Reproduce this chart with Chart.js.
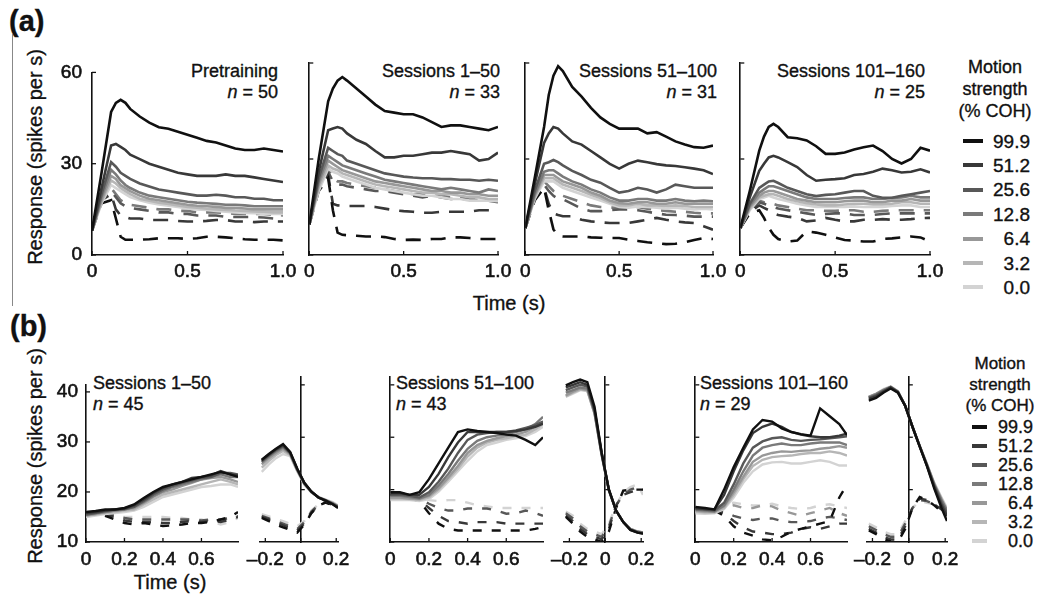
<!DOCTYPE html>
<html>
<head>
<meta charset="utf-8">
<script src="https://cdn.jsdelivr.net/npm/chart.js@4.4.0/dist/chart.umd.min.js"></script>
<style>
  body { margin: 0; width: 1038px; height: 601px; position: relative; overflow: hidden; background: #fff;
         font-family: 'Liberation Sans', Arial, sans-serif; color: #111; }
  canvas { position: absolute; }
  .t { position: absolute; white-space: nowrap; line-height: 1; -webkit-text-stroke: 0.35px #111; }
  .r { text-align: right; }
  .rot { transform: translate(-50%, -50%) rotate(-90deg); }
  .ctr { transform: translate(-50%, -50%); }
</style>
</head>
<body>

<div class="t" style="left:9px;top:7px;font-size:29px;font-weight:bold;">(a)</div>
<div class="t" style="left:10px;top:312px;font-size:29px;font-weight:bold;">(b)</div>
<div style="position:absolute;left:12px;top:34px;width:1px;height:272px;background:#888;"></div>

<div class="t rot" style="left:35px;top:157px;font-size:20px;">Response (spikes per s)</div>
<div class="t ctr" style="left:509px;top:303px;font-size:20px;">Time (s)</div>
<div class="t rot" style="left:35px;top:456px;font-size:20px;">Response (spikes per s)</div>
<div class="t ctr" style="left:170px;top:582px;font-size:20px;">Time (s)</div>

<!-- panel a annotations -->
<div class="t r" style="right:760px;top:61px;font-size:18px;line-height:21px;">Pretraining<br><i>n</i> = 50</div>
<div class="t r" style="right:538px;top:61px;font-size:18px;line-height:21px;">Sessions 1–50<br><i>n</i> = 33</div>
<div class="t r" style="right:321px;top:61px;font-size:18px;line-height:21px;">Sessions 51–100<br><i>n</i> = 31</div>
<div class="t r" style="right:113px;top:61px;font-size:18px;line-height:21px;">Sessions 101–160<br><i>n</i> = 25</div>

<!-- panel b annotations -->
<div class="t" style="left:93px;top:373px;font-size:18px;line-height:21px;">Sessions 1–50<br><i>n</i> = 45</div>
<div class="t" style="left:396px;top:373px;font-size:18px;line-height:21px;">Sessions 51–100<br><i>n</i> = 43</div>
<div class="t" style="left:700px;top:373px;font-size:18px;line-height:21px;">Sessions 101–160<br><i>n</i> = 29</div>

<div id="legA"></div>
<div id="legB"></div>

<script>
// motion strength levels (% COH) and the grey used for each
const COH = ['99.9', '51.2', '25.6', '12.8', '6.4', '3.2', '0.0'];
const COLORS = ['#101010', '#383838', '#585858', '#7a7a7a', '#989898', '#b6b6b6', '#d3d3d3'];

// time bases (s)
const tA = [0, 0.05, 0.1, 0.125, 0.15, 0.175, 0.2, 0.25, 0.3, 0.35, 0.4, 0.45, 0.5, 0.55, 0.6, 0.65, 0.7, 0.75, 0.8, 0.85, 0.9, 0.95, 1.0];
const tB = [0, 0.05, 0.1, 0.15, 0.2, 0.25, 0.3, 0.35, 0.4, 0.45, 0.5, 0.55, 0.6, 0.65, 0.7, 0.75, 0.79];
const tS = [-0.22, -0.18, -0.14, -0.1, -0.06, -0.02, 0.02, 0.06, 0.1, 0.14, 0.18, 0.21];

// tick values
const ticksAx = [0, 0.5, 1.0];
const ticksAy = [0, 30, 60];
const ticksBx = [0, 0.2, 0.4, 0.6];
const ticksSx = [-0.2, 0, 0.2];
const ticksBy = [10, 20, 30, 40];

// (a) Pretraining: solid = preferred dir, one row per COH level
const preSolid = [
  [8, 27, 47, 50, 51, 50, 48, 45.5, 43.5, 42, 41.5, 40.5, 39.5, 38.5, 37.5, 37, 36, 35, 34.5, 34.5, 35, 34.5, 34],
  [8, 22, 36, 36.5, 35.5, 34.5, 33, 31.5, 30, 29, 28, 27, 26.5, 26, 26, 26, 26.5, 26, 26, 25.5, 25, 24.5, 24],
  [8, 20, 30.5, 29, 27, 26, 25, 23.5, 22.5, 21.5, 21, 20.5, 20, 19.5, 19.5, 19.8, 19.5, 19, 19, 18.5, 18.5, 18, 18],
  [8, 19, 28, 26.5, 24.5, 23, 22, 20.5, 19.5, 19, 18.5, 18, 17.5, 17.2, 17, 16.8, 16.5, 16.5, 16.3, 16, 16, 16, 16],
  [8, 18, 26, 25, 23, 22, 21, 19.5, 18.5, 18, 17.5, 17, 16.5, 16.2, 16, 15.8, 15.5, 15.5, 15.3, 15, 15, 15, 15],
  [8, 17.5, 24.5, 23.5, 22, 21, 20, 18.5, 17.8, 17.2, 16.8, 16.3, 15.8, 15.5, 15.2, 15, 14.8, 14.6, 14.5, 14.3, 14.2, 14, 14],
  [8, 17, 23, 22, 21, 20, 19, 18, 17.2, 16.6, 16.2, 15.8, 15.3, 15, 14.8, 14.5, 14.2, 14, 13.8, 13.7, 13.5, 13.5, 13.5]
];
// dashed = null dir, for COH 99.9, 51.2, 25.6, 12.8
const preDashed = [
  [8, 17, 18, 12, 6, 5, 5, 5, 5.2, 5.5, 5.5, 5.5, 5.3, 5.5, 6, 6, 5.8, 5.5, 5.2, 5, 5, 5, 4.8],
  [8, 18, 20, 15, 13, 12.5, 12, 12, 11.5, 11.5, 11.5, 11.2, 11, 11, 11.2, 11.5, 11.5, 11, 11, 10.8, 11, 11, 11],
  [8, 18, 21, 19, 17, 16, 15.5, 15, 14.5, 14, 14, 13.5, 13.5, 13, 13, 13, 12.5, 12.5, 12.5, 12.5, 12.3, 12, 12],
  [8, 18, 22, 20, 18, 17, 16.5, 16, 15.5, 15, 15, 14.5, 14.5, 14, 14, 14, 13.8, 13.5, 13.5, 13.5, 13.5, 13.2, 13]
];

// (a) Sessions 1-50
const s1Solid = [
  [9.5, 30, 48, 52, 54.5, 55.6, 54.5, 52, 49.5, 47, 45, 44.5, 44, 44, 43, 41.5, 40, 40.5, 40.5, 40, 39.5, 39, 40],
  [9.5, 26, 39, 39.5, 40, 39.5, 38, 36, 34.7, 32.5, 30.5, 30.5, 31, 31, 31.5, 32, 32, 32.5, 32, 31.5, 29.5, 30, 32],
  [9.5, 24, 33.5, 32.5, 31.5, 31, 29.5, 28.5, 27.5, 26.5, 25.5, 25, 24.5, 24.2, 24, 24, 23.7, 23.7, 23.5, 23.5, 23.2, 23.5, 23.2],
  [9.5, 23, 31, 30, 29, 28, 27.5, 26.5, 25.5, 24.5, 23.5, 23, 22.5, 22, 21.5, 21, 20.5, 21, 20.5, 20, 19.5, 20.5, 20],
  [9.5, 22, 29.5, 28.5, 27.5, 26.5, 26, 25, 24, 23, 22.5, 22, 21.5, 21, 20.5, 20, 20, 19.5, 19.5, 19, 19, 18.5, 18.5],
  [9.5, 21, 28, 27, 26.5, 25.5, 25, 24, 23, 22, 21.5, 21, 20.5, 20, 19.5, 19.5, 19, 19, 18.5, 18, 18, 17.5, 17.5],
  [9.5, 20, 27, 26, 25.5, 24.5, 24, 23, 22, 21, 20.5, 20, 19.5, 19, 18.5, 18.5, 18, 17.5, 17.5, 17, 17, 17, 16.8]
];
const s1Dashed = [
  [9.5, 20, 24, 14, 7, 6.3, 6.2, 6, 5.8, 5.8, 5.6, 5, 4.7, 4.8, 4.7, 5, 5, 5.5, 5.5, 5.3, 5, 5, 5],
  [9.5, 21, 25, 16, 15.5, 15.4, 15.3, 15.3, 15.3, 15, 14.5, 14, 13.7, 13.5, 13.2, 13.2, 13.5, 13.5, 13.5, 13.5, 14, 14, 14],
  [9.5, 22, 26, 23, 22, 22, 21.5, 21, 20.5, 20, 20, 19.5, 19, 18.5, 18, 18.5, 18, 17.5, 17.5, 17.5, 17, 17, 16.5],
  [9.5, 22, 27, 24, 23, 23, 22.5, 22, 21.5, 21, 20.5, 20, 19.5, 19, 19, 18.5, 18.5, 18, 18, 17.5, 17.5, 17, 17]
];

// (a) Sessions 51-100
const s51Solid = [
  [8.4, 24, 40, 50, 56, 59, 57.5, 52.5, 49.5, 46, 43, 41, 39.5, 39.5, 39.5, 38, 38.4, 37, 35.5, 34.5, 33.7, 33.5, 34.2],
  [8.4, 22, 35, 38, 40, 39.5, 38, 35.5, 34.5, 32.5, 30.5, 28.5, 27, 28.5, 29.5, 29, 28.4, 28, 27.8, 27.4, 27, 26.5, 25.3],
  [8.4, 20, 28.5, 29, 29.7, 29, 28, 26.3, 25, 23.5, 22.6, 21, 19.5, 20, 21, 20.5, 19.5, 20.5, 22, 21.5, 21, 21, 21],
  [8.4, 19, 26, 26.5, 26.5, 25.5, 24.5, 23, 22, 20.5, 19.5, 18, 17, 17, 17.5, 17.5, 17, 17, 17.5, 17, 16.8, 17, 16.8],
  [8.4, 18.5, 25, 25, 25, 24, 23, 22, 21, 19.5, 18.5, 17, 16.2, 16, 16.5, 16.5, 16, 16, 16.5, 16, 16, 16, 16],
  [8.4, 18, 24, 24, 24, 23, 22, 21, 20, 18.8, 17.8, 16.5, 15.5, 15.5, 16, 15.5, 15.5, 15.3, 15.5, 15.3, 15, 15, 15],
  [8.4, 17.5, 23, 23, 23, 22, 21, 20, 19, 18, 17, 16, 15, 14.8, 15.2, 15, 14.8, 14.5, 14.8, 14.5, 14.2, 14.5, 14.2]
];
const s51Dashed = [
  [8.4, 17, 21, 14, 8, 6, 5.8, 5.8, 5.8, 5.5, 5.4, 5.3, 5.3, 4.8, 4.4, 4, 3.7, 3.4, 3.5, 4, 4.7, 5.3, 5],
  [8.4, 17.5, 21, 16, 13, 12.5, 12.1, 12.1, 11, 10.5, 10.2, 10, 10, 10, 10.5, 11, 11.6, 11, 10.5, 10.2, 10, 9, 7.9],
  [8.4, 18, 22, 20, 18.5, 17.5, 17.4, 16, 14.5, 13.7, 13.7, 14, 14.2, 14.2, 14, 13.5, 13, 12.6, 12.5, 12.3, 12, 12, 12],
  [8.4, 18, 23, 21.5, 20, 19, 18.5, 17.5, 16.5, 15.5, 15, 14.8, 14.8, 15, 15, 14.5, 14, 13.8, 13.5, 13.5, 13.2, 13, 13]
];

// (a) Sessions 101-160
const s101Solid = [
  [8.4, 20, 32.6, 37, 40, 41, 40, 36.8, 36.5, 35.8, 34, 31.6, 31.6, 32, 33, 33.7, 34.2, 32.5, 30, 28.6, 30, 33.5, 32.6],
  [8.4, 18, 26.3, 28.5, 30.5, 31, 30.5, 29, 27.5, 25, 23.2, 23.5, 23.7, 24, 25, 25.3, 26, 27, 26.5, 25.8, 26, 26.8, 25.8],
  [8.4, 16, 21, 22, 23, 23.2, 22.5, 21, 20, 19, 18.4, 18.8, 19, 19.5, 20, 20, 18.5, 17.9, 17.9, 18.5, 19, 19.5, 20],
  [8.4, 15.5, 19.5, 20.5, 21.5, 21.5, 21, 20, 19, 18, 17.5, 17.5, 17.5, 17.8, 18, 18, 17.5, 17.5, 17.8, 18, 18.5, 18, 18],
  [8.4, 15, 18.5, 19.5, 20, 20, 19.5, 18.5, 17.5, 17, 16.5, 16.5, 16.5, 16.8, 17, 17, 16.5, 16.5, 17, 17, 17.5, 17, 17],
  [8.4, 14.5, 18, 18.5, 19, 19, 18.5, 17.5, 16.8, 16.2, 15.8, 15.5, 15.5, 15.8, 16, 16, 15.8, 15.8, 16, 16.5, 16.5, 16, 16],
  [8.4, 14, 17.5, 18, 18.5, 18, 17.5, 16.8, 16, 15.5, 15, 15, 15, 15, 15.2, 15, 15, 15, 15.3, 15.5, 15.5, 15, 15]
];
const s101Dashed = [
  [8.4, 13, 14, 11.6, 8.5, 6.3, 5, 4.2, 4.5, 7.4, 7, 6.3, 5.5, 4.7, 4.5, 4.2, 4.2, 5, 5.2, 5.5, 5.8, 5.5, 4.2],
  [8.4, 13.5, 15.5, 14.7, 14, 13, 12.5, 12, 11.6, 10.5, 10.8, 11.6, 11, 10.5, 10.5, 11, 11, 11.2, 11, 11, 11.2, 11.5, 11.6],
  [8.4, 14, 16.5, 16, 15.5, 15, 14.5, 14, 13.5, 13, 12.5, 12.8, 13, 13, 12.5, 12.5, 12.5, 12.8, 13, 13, 13, 13, 13],
  [8.4, 14.5, 17, 16.5, 16.5, 16, 15.5, 15, 14.5, 14, 14, 13.8, 13.8, 14, 14, 13.5, 13.5, 13.8, 14, 14, 14, 14, 14]
];
const dashedCohA = [0, 1, 2, 3];

// (b) Sessions 1-50, aligned to motion onset / to saccade
const b1Stim = [
  [16, 16.2, 16.5, 16.5, 16.8, 17.5, 18.8, 20, 21, 21.5, 22, 22.5, 23, 23.5, 24, 23.5, 23],
  [15.8, 16, 16.3, 16.5, 16.7, 17.3, 18.5, 19.8, 20.8, 21.5, 22, 22.8, 23, 23.3, 24.2, 23.5, 23.3],
  [15.5, 15.8, 16.2, 16.5, 16.6, 17, 18.2, 19.5, 20.5, 21.2, 21.8, 22.3, 22.8, 23, 23.8, 23.8, 23.5],
  [15.5, 15.8, 16, 16.3, 16.5, 17, 18, 19.2, 20.2, 21, 21.5, 22, 22.5, 23, 23.5, 23, 23],
  [15.3, 15.6, 16, 16.3, 16.5, 16.8, 17.8, 19, 20, 20.5, 21.2, 21.8, 22.5, 22.8, 23, 22.5, 22],
  [15.3, 15.5, 15.8, 16, 16.3, 16.5, 17.5, 18.5, 19.5, 20, 20.5, 21, 21.5, 22, 22.5, 22, 21.5],
  [15, 15.3, 15.6, 15.8, 16, 16.3, 17, 18, 19, 19.5, 20, 20.5, 21, 21.2, 21.5, 21.5, 21]
];
const b1StimNull = [
  [15.5, 15.5, 15.2, 14.5, 13.8, 13.5, 13.8, 13.5, 13.2, 13.3, 13.5, 13.8, 13.8, 14, 14.5, 15, 16],
  [15.5, 15.5, 15.5, 15, 14.3, 14, 14, 14, 13.8, 13.8, 14, 14.2, 14, 14.2, 14, 14.5, 15],
  [15.8, 15.8, 15.8, 15.3, 14.8, 14.5, 14.5, 14.5, 14.5, 14.5, 14.5, 14.5, 14.3, 14.5, 14.5, 14.8, 15.2],
  [16, 16, 16, 15.5, 15, 15, 15, 15, 15, 14.8, 14.8, 14.5, 14.5, 14, 13.5, 14, 14.8]
];
const b1Sacc = [
  [25.7, 26.8, 27.8, 28.7, 27.2, 24, 21.3, 19.6, 18.5, 17.9, 17.2, 16.5],
  [25.6, 26.7, 27.7, 28.5, 27.1, 24, 21.3, 19.6, 18.5, 17.9, 17.2, 16.6],
  [25.4, 26.5, 27.5, 28.3, 27, 23.9, 21.2, 19.6, 18.5, 17.9, 17.3, 16.7],
  [25.2, 26.3, 27.3, 28.1, 26.9, 23.8, 21.2, 19.6, 18.5, 18, 17.4, 16.8],
  [24.8, 26, 27, 27.8, 26.8, 23.7, 21.1, 19.5, 18.5, 18, 17.4, 16.8],
  [24.2, 25.5, 26.6, 27.4, 26.6, 23.6, 21, 19.5, 18.5, 18, 17.5, 16.9],
  [23.4, 24.8, 26, 26.8, 26.4, 23.5, 21, 19.5, 18.6, 18.1, 17.6, 17]
];
const b1SaccNull = [
  [14.6, 14, 13.3, 12.8, 12.3, 11.8, 13.3, 15.5, 17, 17.5, 17, 16.5],
  [14.8, 14.3, 13.7, 13.2, 12.6, 12.2, 13.5, 15.6, 17, 17.6, 17.1, 16.6],
  [15, 14.5, 14, 13.5, 13, 12.5, 13.8, 15.8, 17.1, 17.7, 17.2, 16.7],
  [15.3, 14.9, 14.4, 14, 13.5, 13, 14, 16, 17.2, 17.8, 17.3, 16.8]
];

// (b) Sessions 51-100
const b51Stim = [
  [19.5, 19.5, 19, 19.5, 22, 25, 28, 31, 31.5, 31.2, 31, 30.8, 30.5, 30.3, 29.5, 28.5, 30],
  [19.3, 19.3, 19, 19, 20.5, 23, 26.2, 29, 31, 31, 31, 31, 31, 31.2, 31.5, 32, 32.6],
  [19, 19, 18.8, 18.5, 19.5, 21.5, 24, 27, 29.5, 30.5, 30.8, 31, 31, 31.3, 31.8, 32.3, 33],
  [18.8, 18.8, 18.6, 18.3, 19, 20.8, 23, 25.5, 27.8, 29.3, 30, 30.3, 30.6, 31, 31.5, 32.5, 33.9],
  [18.5, 18.5, 18.3, 18.2, 18.8, 20.3, 22.3, 24.5, 27, 28.5, 29.3, 29.8, 30.2, 30.5, 31, 32, 33],
  [18.3, 18.3, 18.2, 18, 18.5, 20, 22, 24, 26.3, 28, 29, 29.5, 29.8, 30.2, 30.5, 31.5, 32.5],
  [18, 18, 18, 17.8, 18.2, 19.6, 21.5, 23.5, 25.5, 27.3, 28.5, 29, 29.5, 29.8, 30.2, 31, 32]
];
const b51StimNull = [
  [19, 18.8, 18.3, 17.8, 15.5, 13.5, 12.5, 12.2, 12.2, 12.2, 12.2, 12.2, 12.2, 12.2, 12.2, 12.5, 12.9],
  [19, 18.8, 18.5, 18, 16.5, 15, 14, 13.8, 13.5, 13.8, 13.8, 13.8, 13.5, 13.5, 13.5, 13.5, 13.5],
  [19, 19, 18.8, 18.3, 17.3, 16.5, 16, 16, 16.4, 16.4, 16.4, 16, 15.4, 15.5, 16, 15.5, 15],
  [19.2, 19.2, 19, 18.6, 18, 17.8, 18, 18, 17.5, 17, 16.8, 16.5, 16.5, 16.5, 16.5, 16.5, 16.5]
];
const b51Sacc = [
  [39.9, 40.5, 41, 40.5, 35.8, 27, 20, 16, 13.8, 12.3, 11.8, 11.6],
  [39.5, 40, 40.5, 40, 35.3, 27, 20, 16, 13.8, 12.3, 11.8, 11.6],
  [39, 39.5, 40, 39.7, 35, 26.8, 20, 16, 13.8, 12.4, 11.9, 11.7],
  [38.5, 39, 39.5, 39.3, 34.8, 26.7, 19.9, 16, 13.8, 12.4, 11.9, 11.7],
  [38, 38.7, 39.3, 39, 34.6, 26.6, 19.9, 16, 13.8, 12.5, 12, 11.8],
  [37.8, 38.5, 39.1, 38.9, 34.5, 26.5, 19.8, 16, 13.8, 12.5, 12, 11.8],
  [37.7, 38.3, 39, 38.8, 34.5, 26.5, 19.8, 16, 13.8, 12.5, 12, 11.8]
];
const b51SaccNull = [
  [14.8, 13.5, 12, 11, 10.5, 10, 12, 16.5, 19.8, 20, 20, 20],
  [15, 14, 12.5, 11.5, 11, 10.5, 12.5, 17, 19, 19.5, 20, 20],
  [15.5, 14.5, 13, 12, 11.5, 11, 13, 17, 19, 20, 20.5, 20.5],
  [15.8, 15, 13.5, 12.5, 12, 11.5, 13.5, 17, 19.5, 20.5, 21, 19]
];

// (b) Sessions 101-160
const b101Stim = [
  [16.7, 16.5, 16.2, 20, 24.3, 28, 31.5, 33.3, 33, 31.7, 31, 30.6, 30.3, 35.5, 34, 32.5, 30.4],
  [16.5, 16.3, 16.2, 19, 23.5, 27.5, 30.8, 32, 32.6, 32, 31, 30.5, 30.2, 30, 30, 30.3, 30.7],
  [16.3, 16.2, 16, 17.5, 21, 25, 28, 29.2, 29.8, 30, 29.5, 29.3, 29.5, 29.6, 29.8, 30, 30.2],
  [16.2, 16, 15.8, 17, 20, 23.5, 26.5, 28, 28.5, 28.8, 28.5, 28.5, 28.8, 29, 29, 29, 28.5],
  [16, 15.8, 15.8, 16.8, 19.5, 22.5, 25.3, 26.5, 27, 27.3, 27.2, 27.4, 27.5, 27.8, 28, 28.3, 28],
  [15.8, 15.6, 15.6, 16.5, 19, 22, 24.5, 25.7, 26.2, 26.4, 26.5, 26.8, 27, 27, 27.3, 27, 26.5],
  [15.5, 15.4, 15.5, 16.3, 18.5, 21.3, 23.5, 24.8, 25.2, 25.3, 25, 25, 25.3, 25.6, 25.3, 24.6, 24.6]
];
const b101StimNull = [
  [16.5, 16.2, 16, 15, 13, 11.8, 11.2, 10.5, 10.3, 11, 12, 12.5, 13, 13.5, 14, 18.5, 21],
  [16.5, 16.3, 16, 15.5, 14, 12.8, 12, 11.8, 11.5, 11.5, 11.8, 12.5, 12.8, 12.5, 13, 13.5, 13.5],
  [16.3, 16.2, 16, 15.8, 15, 14.5, 14.2, 14.5, 14.5, 14, 13.8, 13.8, 14, 14.5, 14.8, 14.5, 14.2],
  [16, 16, 16, 16.5, 17, 16.5, 16.5, 17, 16.8, 16, 15.5, 15, 15.5, 16, 16.5, 15.5, 15],
  [15.8, 16, 16.5, 17.3, 17.5, 17.2, 17, 17, 17.3, 16.8, 16.5, 16.3, 16.5, 17, 17.2, 16.8, 16.5]
];
const b101Sacc = [
  [37, 37.5, 38.5, 39.3, 38.5, 36, 32, 28.2, 24.5, 20.2, 16.5, 14],
  [37.3, 37.8, 38.7, 39.5, 38.6, 36, 32, 28.2, 24.5, 20.5, 17, 15],
  [37.5, 38, 38.8, 39.5, 38.6, 36, 32, 28.3, 24.6, 20.8, 17.5, 15.5],
  [37.6, 38.2, 39, 39.6, 38.7, 36, 32, 28.3, 24.7, 21, 18, 16],
  [37.7, 38.3, 39, 39.6, 38.7, 36, 32, 28.3, 24.8, 21, 18, 16],
  [37.7, 38.3, 39, 39.6, 38.7, 36, 32, 28.3, 24.8, 21.2, 18.3, 16.2],
  [37.7, 38.3, 39.2, 39.7, 38.8, 36.1, 32, 28.4, 24.9, 21.3, 18.5, 16.5]
];
const b101SaccNull = [
  [12.2, 11.5, 10.6, 10.1, 10, 12.5, 16.5, 18.6, 18, 17, 15.8, 15],
  [12.5, 11.8, 11, 10.5, 10.5, 13, 16.5, 18.3, 18, 17.2, 16.2, 15.5],
  [13, 12.3, 11.5, 11, 11, 13.5, 16.5, 18, 17.8, 17.2, 16.5, 16],
  [13.5, 12.8, 12, 11.5, 11.5, 14, 16.5, 17.8, 17.5, 17.2, 16.8, 16.5]
];
const dashedCohB = [0, 1, 2, 6];
const dashedCohB101 = [0, 1, 2, 4, 6];

const FONT = "'Liberation Sans', Arial, sans-serif";

function fmtTick(v) {
  if (Math.abs(v) < 1e-9) return '0';
  return (v < 0 ? '\u2013' : '') + Math.abs(v).toFixed(1);
}

// small inward tick marks like the original axes
const inTicks = {
  id: 'inTicks',
  afterDraw(chart) {
    const { ctx, chartArea: ca, scales: { x, y } } = chart;
    const yAt0 = typeof chart.options.scales.y.position === 'object';
    const axX = yAt0 ? x.getPixelForValue(0) : ca.left;
    ctx.save();
    ctx.strokeStyle = '#111';
    ctx.lineWidth = 1.3;
    x.ticks.forEach(t => {
      const px = x.getPixelForValue(t.value);
      ctx.beginPath(); ctx.moveTo(px, ca.bottom); ctx.lineTo(px, ca.bottom - 4); ctx.stroke();
    });
    y.ticks.forEach(t => {
      const py = y.getPixelForValue(t.value);
      ctx.beginPath(); ctx.moveTo(axX, py); ctx.lineTo(axX + 4, py); ctx.stroke();
    });
    ctx.restore();
  }
};

function makePanel(p) {
  const ml = p.yAt0 ? 24 : (p.yLabels ? 46 : 8);
  const mt = 12, mr = 20, mb = 32;
  const [L, T, R, B] = p.area;
  const cv = document.createElement('canvas');
  cv.width = R - L + ml + mr;
  cv.height = B - T + mt + mb;
  cv.style.left = (L - ml) + 'px';
  cv.style.top = (T - mt) + 'px';
  document.body.appendChild(cv);

  const datasets = [];
  p.solid.forEach((row, i) => datasets.push({
    data: p.t.map((x, k) => ({ x, y: row[k] })),
    borderColor: COLORS[i], borderWidth: p.lw, pointRadius: 0, tension: 0
  }));
  p.dashed.forEach((row, j) => datasets.push({
    data: p.t.map((x, k) => ({ x, y: row[k] })),
    borderColor: COLORS[p.dashedCoh[j]], borderWidth: p.lw, borderDash: p.dash, pointRadius: 0, tension: 0
  }));

  const tickFont = { family: FONT, size: 19 };
  const tickText = { font: tickFont, color: '#111', textStrokeColor: '#111', textStrokeWidth: 0.6 };
  new Chart(cv, {
    type: 'line',
    data: { datasets },
    options: {
      responsive: false,
      animation: false,
      devicePixelRatio: 1,
      layout: { padding: { left: p.yAt0 ? ml : 0, top: mt, right: mr, bottom: 0 } },
      plugins: { legend: { display: false }, tooltip: { enabled: false } },
      scales: {
        x: {
          type: 'linear', min: p.xr[0], max: p.xr[1],
          grid: { display: false, drawTicks: false },
          border: { display: true, color: '#111', width: 1.6 },
          ticks: { ...tickText, padding: p.xPad, maxRotation: 0, autoSkip: false, callback: fmtTick },
          afterBuildTicks: s => { s.ticks = p.xt.map(v => ({ value: v })); },
          afterFit: s => { s.height = mb; }
        },
        y: {
          type: 'linear', position: p.yAt0 ? { x: 0 } : 'left',
          min: p.yr[0], max: p.yr[1],
          grid: { display: false, drawTicks: false },
          border: { display: true, color: '#111', width: 1.6 },
          ticks: { ...tickText, display: !!p.yLabels, padding: p.yPad },
          afterBuildTicks: s => { s.ticks = p.yt.map(v => ({ value: v })); },
          afterFit: s => { if (!p.yAt0) s.width = ml; }
        }
      }
    },
    plugins: [inTicks]
  });
}

// panel (a)
const aCommon = { t: tA, xr: [0, 1], yr: [0, 60], xt: ticksAx, yt: ticksAy, dashedCoh: dashedCohA,
                  dash: [15, 10], lw: 2.6, xPad: 5, yPad: 10 };
makePanel({ ...aCommon, area: [92, 63, 283, 255], yLabels: true, solid: preSolid, dashed: preDashed });
makePanel({ ...aCommon, area: [307, 63, 498, 255], solid: s1Solid, dashed: s1Dashed });
makePanel({ ...aCommon, area: [523, 63, 713, 255], solid: s51Solid, dashed: s51Dashed });
makePanel({ ...aCommon, area: [738, 63, 930, 255], solid: s101Solid, dashed: s101Dashed });

// panel (b)
const bStim = { t: tB, xr: [0, 0.79], yr: [10, 41.5], xt: ticksBx, yt: ticksBy, dash: [9, 10], lw: 2.4, xPad: 6, yPad: 8 };
const bSacc = { t: tS, xr: [-0.23, 0.21], yr: [10, 41.5], xt: ticksSx, yt: ticksBy.slice(1), dash: [9, 10], lw: 2.4, xPad: 6, yPad: 8, yAt0: true };
makePanel({ ...bStim, area: [86, 377, 238, 542], yLabels: true, solid: b1Stim, dashed: b1StimNull, dashedCoh: dashedCohB });
makePanel({ ...bSacc, area: [260, 377, 338, 542], solid: b1Sacc, dashed: b1SaccNull, dashedCoh: dashedCohB });
makePanel({ ...bStim, area: [387, 377, 543, 542], solid: b51Stim, dashed: b51StimNull, dashedCoh: dashedCohB });
makePanel({ ...bSacc, area: [564, 377, 643, 542], solid: b51Sacc, dashed: b51SaccNull, dashedCoh: dashedCohB });
makePanel({ ...bStim, area: [692, 377, 847, 542], solid: b101Stim, dashed: b101StimNull, dashedCoh: dashedCohB101 });
makePanel({ ...bSacc, area: [867, 377, 947, 542], solid: b101Sacc, dashed: b101SaccNull, dashedCoh: dashedCohB });

// legends, built from the COH levels
function makeLegend(el, cx, headTop, headSize, rowTop, rowStep, sw, swH, textRight, numSize) {
  const head = document.createElement('div');
  head.className = 't';
  head.style.cssText = `left:${cx - 60}px;width:120px;top:${headTop}px;text-align:center;font-size:${headSize}px;line-height:${headSize + 4}px;`;
  head.innerHTML = 'Motion<br>strength<br>(% COH)';
  el.appendChild(head);
  COH.forEach((c, i) => {
    const cy = rowTop + rowStep * i;
    const s = document.createElement('div');
    s.style.cssText = `position:absolute;left:${sw[0]}px;width:${sw[1] - sw[0]}px;top:${cy - swH / 2}px;height:${swH}px;background:${COLORS[i]};`;
    el.appendChild(s);
    const n = document.createElement('div');
    n.className = 't r';
    n.style.cssText = `right:${1038 - textRight}px;top:${cy - numSize / 2}px;font-size:${numSize}px;`;
    n.textContent = c;
    el.appendChild(n);
  });
}
makeLegend(document.getElementById('legA'), 995, 56, 18, 141, 24.4, [963, 983], 4, 1030, 19);
makeLegend(document.getElementById('legB'), 1000, 353, 17, 427, 19, [972, 987], 3.5, 1033, 18);
</script>
</body>
</html>
